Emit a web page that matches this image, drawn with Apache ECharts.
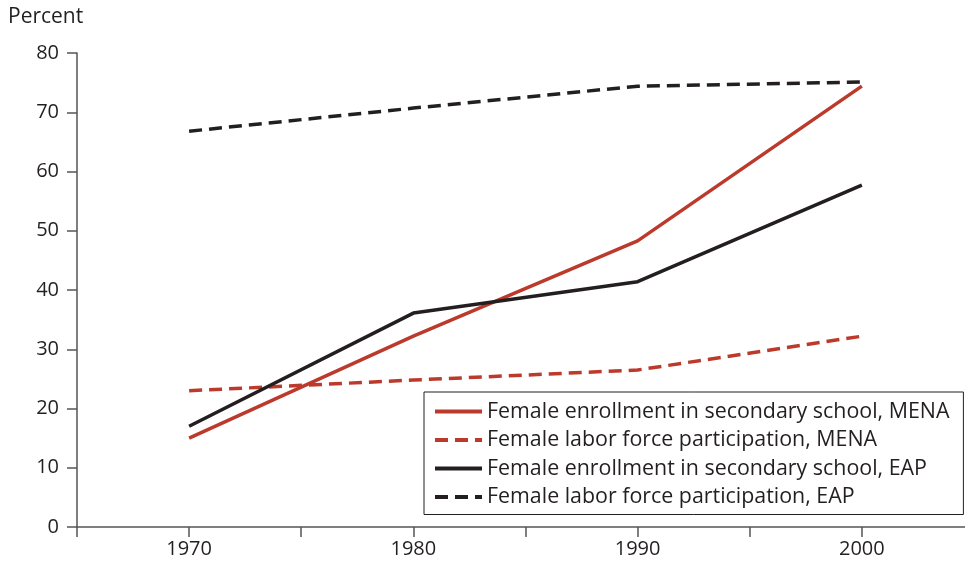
<!DOCTYPE html>
<html><head><meta charset="utf-8">
<script src="https://cdn.jsdelivr.net/npm/echarts@6/dist/echarts.min.js"></script>
<style>html,body{margin:0;padding:0;background:#fff}#c{width:965px;height:564px}</style>
</head><body><div id="c"></div>
<script>
const years = [1970, 1980, 1990, 2000];
const menaEnroll = [15.0, 32.2, 48.3, 74.4];
const menaLabor = [23.0, 24.8, 26.5, 32.2];
const eapEnroll = [17.0, 36.1, 41.4, 57.7];
const eapLabor = [66.8, 70.7, 74.4, 75.1];
const xTicks = [1965, 1970, 1975, 1980, 1985, 1990, 1995, 2000];
const xLabels = [1970, 1980, 1990, 2000];
const names = [
  'Female enrollment in secondary school, MENA',
  'Female labor force participation, MENA',
  'Female enrollment in secondary school, EAP',
  'Female labor force participation, EAP'
];
const red = '#bc3a2c', black = '#231f20';
const font = 'Open Sans';
function pairs(v){ return years.map((y,i)=>[y,v[i]]); }
function mk(name, vals, color, dashed){
  return {name, type:'line', data:pairs(vals), symbol:'none', silent:true,
    lineStyle:{color, width:3.5, type: dashed ? [13,7] : 'solid'},
    itemStyle:{color}};
}
const chart = echarts.init(document.getElementById('c'));
chart.setOption({
  animation:false,
  grid:{left:77, right:0, top:53, bottom:37},
  graphic:[{type:'text', left:8, top:7, style:{text:'Percent', font:'21px "'+font+'"', fill:black}}],
  xAxis:{type:'value', min:1965, max:2004.6,
    axisLine:{lineStyle:{color:'#555', width:1.5}},
    axisTick:{length:10, customValues:xTicks, lineStyle:{color:'#555', width:1.5}},
    splitLine:{show:false},
    axisLabel:{margin:12, fontSize:20, fontFamily:font, color:black, customValues:xLabels,
      formatter:v=>String(v)}},
  yAxis:{type:'value', min:0, max:80, interval:10,
    axisLine:{show:true, lineStyle:{color:'#555', width:1.5}},
    axisTick:{show:true, length:10, lineStyle:{color:'#555', width:1.5}},
    splitLine:{show:false},
    axisLabel:{margin:18, fontSize:20, fontFamily:font, color:black}},
  legend:{orient:'vertical', left:424, top:392, width:530,
    backgroundColor:'#fff', borderColor:black, borderWidth:1,
    padding:[9,14,7,9], itemGap:7.5, itemWidth:47, itemHeight:20,
    itemStyle:{opacity:0}, lineStyle:{width:4},
    textStyle:{fontSize:21.4, lineHeight:20, fontFamily:font, color:black},
    data:names},
  series:[
    mk(names[0], menaEnroll, red, false),
    mk(names[1], menaLabor, red, true),
    mk(names[2], eapEnroll, black, false),
    mk(names[3], eapLabor, black, true)
  ]
});
</script></body></html>
